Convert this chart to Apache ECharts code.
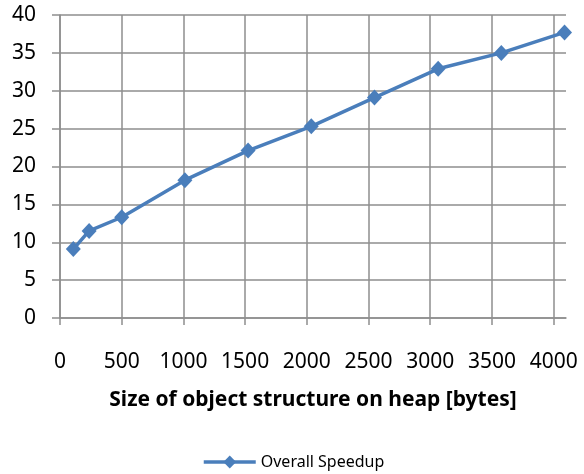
<!DOCTYPE html>
<html>
<head>
<meta charset="utf-8">
<script src="https://cdn.jsdelivr.net/npm/echarts@6/dist/echarts.min.js"></script>
<style>html,body{margin:0;padding:0;background:#fff}#c{width:584px;height:474px}</style>
</head>
<body>
<div id="c"></div>
<script>
const sizes = [108, 236, 500, 1012, 1524, 2036, 2548, 3064, 3576, 4088];
const speedup = [9.1, 11.5, 13.3, 18.2, 22.1, 25.3, 29.1, 32.9, 35.0, 37.7];
const seriesName = 'Overall Speedup';
const xTitle = 'Size of object structure on heap [bytes]';

const data = sizes.map((s, i) => [s, speedup[i]]);
const gridColor = '#8e8e8e';
const lineColor = '#4a7ebb';
const font = '"Noto Sans", "Open Sans", sans-serif';

const chart = echarts.init(document.getElementById('c'), null, {renderer: 'canvas'});
chart.setOption({
  animation: false,
  backgroundColor: '#fff',
  grid: {left: 60, right: 18, top: 15, bottom: 156, containLabel: false},
  legend: {
    data: [{name: seriesName, lineStyle: {width: 3.5, color: lineColor}}],
    top: 454,
    left: 202,
    padding: 0,
    itemWidth: 52,
    itemHeight: 16,
    itemGap: 6,
    textStyle: {fontFamily: font, fontSize: 16, color: '#000'}
  },
  xAxis: {
    type: 'value',
    min: 0,
    max: 4100,
    interval: 500,
    name: xTitle,
    nameLocation: 'middle',
    nameGap: 72,
    nameTextStyle: {fontFamily: font, fontSize: 21, fontWeight: 'bold', color: '#000'},
    axisLine: {show: true, lineStyle: {color: gridColor, width: 1.5}},
    axisTick: {show: true, length: 7, lineStyle: {color: gridColor, width: 1.5}},
    axisLabel: {fontFamily: font, fontSize: 21, color: '#000', margin: 34, showMaxLabel: false,
      formatter: v => String(v)},
    splitLine: {show: true, showMaxLine: false, lineStyle: {color: gridColor, width: 1.5}}
  },
  yAxis: {
    type: 'value',
    min: 0,
    max: 40,
    interval: 5,
    axisLine: {show: true, lineStyle: {color: gridColor, width: 1.5}},
    axisTick: {show: true, length: 8, lineStyle: {color: gridColor, width: 1.5}},
    axisLabel: {fontFamily: font, fontSize: 21, color: '#000', margin: 24},
    splitLine: {show: true, lineStyle: {color: gridColor, width: 1.5}}
  },
  series: [{
    name: seriesName,
    type: 'line',
    data: data,
    symbol: 'diamond',
    symbolSize: [15, 16],
    showAllSymbol: true,
    clip: false,
    lineStyle: {color: lineColor, width: 3.5},
    itemStyle: {color: lineColor, borderWidth: 0}
  }]
});
</script>
</body>
</html>
